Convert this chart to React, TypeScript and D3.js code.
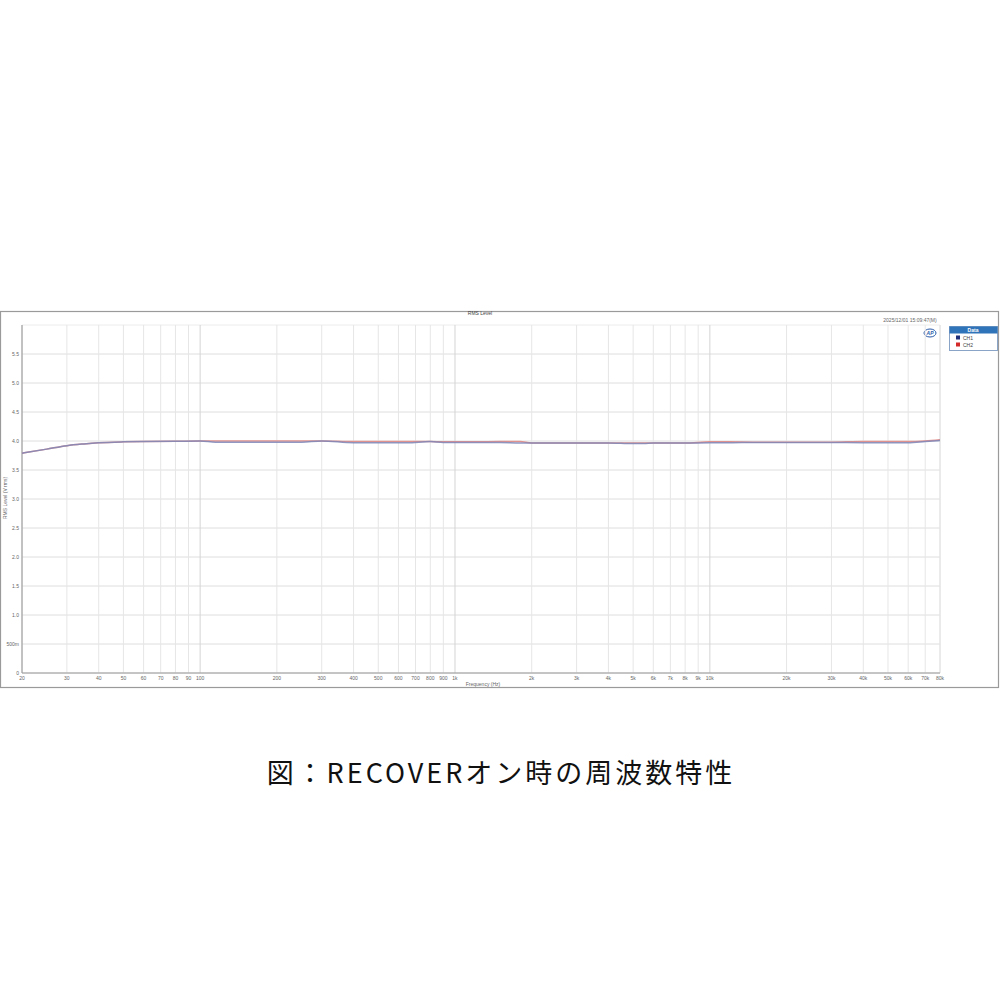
import React from "react";
import * as d3 from "d3";

const freqs = [20, 25, 30, 35, 40, 50, 60, 80, 100, 115, 150, 200, 250, 300, 400, 500, 650, 800, 900, 1200, 1500, 1800, 2000, 3000, 4000, 5000, 5500, 6000, 8000, 10000, 12000, 15000, 20000, 30000, 40000, 50000, 60000, 70000, 80000];
const ch1 = [3.79, 3.86, 3.92, 3.95, 3.97, 3.985, 3.99, 3.995, 4.0, 3.98, 3.98, 3.98, 3.98, 4.0, 3.97, 3.97, 3.97, 3.99, 3.975, 3.975, 3.975, 3.965, 3.965, 3.965, 3.965, 3.955, 3.955, 3.965, 3.965, 3.97, 3.97, 3.975, 3.975, 3.975, 3.97, 3.97, 3.97, 3.99, 4.01];
const ch2 = [3.79, 3.86, 3.92, 3.95, 3.97, 3.985, 3.99, 3.995, 4.0, 4.0, 4.0, 4.0, 4.0, 4.0, 3.99, 3.99, 3.99, 3.99, 3.985, 3.985, 3.99, 3.99, 3.965, 3.965, 3.965, 3.965, 3.965, 3.965, 3.965, 3.985, 3.985, 3.98, 3.98, 3.98, 3.99, 3.99, 3.99, 4.0, 4.02];
const xTicks = [20, 30, 40, 50, 60, 70, 80, 90, 100, 200, 300, 400, 500, 600, 700, 800, 900, 1000, 2000, 3000, 4000, 5000, 6000, 7000, 8000, 9000, 10000, 20000, 30000, 40000, 50000, 60000, 70000, 80000];
const yTicks = [0, 0.5, 1, 1.5, 2, 2.5, 3, 3.5, 4, 4.5, 5, 5.5];
const seriesNames = ["CH1", "CH2"];
const seriesColors = ["#7d86b8", "#e0928f"];
const legendColors = ["#1f2f7a", "#d42a2a"];

function fmtX(f: number) {
  if (f >= 1000) return f / 1000 + "k";
  return String(f);
}
function fmtY(v: number) {
  if (v === 0) return "0";
  if (v < 1) return v * 1000 + "m";
  return v.toFixed(1);
}

export default function App() {
  const L = 22, R = 940, T = 325, B = 673;
  const x = d3.scaleLog().domain([20, 80000]).range([L, R]);
  const y = d3.scaleLinear().domain([0, 6]).range([B, T]);
  const line = d3.line<number>().x((_, i) => x(freqs[i])).y((d) => y(d)).curve(d3.curveMonotoneX);
  const font = "Liberation Sans, Arial, sans-serif";
  return (
    <svg width={1000} height={1000} style={{ position: "absolute", left: 0, top: 0, background: "#fff" }} fontFamily={font}>
      <rect x={0.5} y={311.5} width={998} height={376} fill="#fff" stroke="#9a9a9a" strokeWidth={1.2} />
      <text x={480} y={315} fontSize={5} textAnchor="middle" fill="#444">RMS Level</text>
      <text x={910} y={322} fontSize={5} textAnchor="middle" fill="#666">2025/12/01 15:09:47(M)</text>
      <g>
        <ellipse cx={930} cy={333} rx={6} ry={4} fill="#fff" stroke="#2a5aa8" strokeWidth={1} />
        <text x={930} y={335} fontSize={5} fontWeight="bold" fontStyle="italic" textAnchor="middle" fill="#2a5aa8">AP</text>
      </g>
      {yTicks.map((t) => (
        <line key={"gy" + t} x1={L} x2={R} y1={y(t)} y2={y(t)} stroke="#dedede" strokeWidth={1} />
      ))}
      <line x1={L} x2={R} y1={T} y2={T} stroke="#ececec" />
      {xTicks.map((t) => (
        <line key={"gx" + t} x1={x(t)} x2={x(t)} y1={T} y2={B} stroke={[20, 100, 1000, 10000].includes(t) ? "#d4d4d4" : "#e6e6e6"} strokeWidth={1} />
      ))}
      <line x1={R} x2={R} y1={T} y2={B} stroke="#e2e2e2" />
      <line x1={L} x2={L} y1={T} y2={B} stroke="#9a9a9a" />
      <line x1={L} x2={R} y1={B} y2={B} stroke="#9a9a9a" />
      {yTicks.map((t) => (
        <text key={"ly" + t} x={L - 3} y={y(t) + 2} fontSize={5} textAnchor="end" fill="#666">{fmtY(t)}</text>
      ))}
      {xTicks.map((t) => (
        <text key={"lx" + t} x={x(t)} y={680} fontSize={5} textAnchor="middle" fill="#666">{fmtX(t)}</text>
      ))}
      <text x={483} y={686} fontSize={5} textAnchor="middle" fill="#666">Frequency (Hz)</text>
      <text transform="translate(7,498) rotate(-90)" fontSize={5} textAnchor="middle" fill="#666">RMS Level (V rms)</text>
      <path d={line(ch2) || ""} fill="none" stroke={seriesColors[1]} strokeWidth={1.5} />
      <path d={line(ch1) || ""} fill="none" stroke={seriesColors[0]} strokeWidth={1.5} opacity={0.85} />
      <g>
        <rect x={949.5} y={326.5} width={48} height={24} fill="#fff" stroke="#8aa4c8" />
        <rect x={949.5} y={326.5} width={48} height={7} fill="#2f73b8" />
        <text x={973} y={332} fontSize={5} textAnchor="middle" fill="#fff" fontWeight="bold">Data</text>
        {seriesNames.map((n, i) => (
          <g key={n}>
            <rect x={956} y={335.5 + i * 7} width={4} height={4} fill={legendColors[i]} />
            <text x={963} y={339.5 + i * 7} fontSize={5} fill="#444">{n}</text>
          </g>
        ))}
      </g>
      <text x={501} y={783} fontSize={27} textAnchor="middle" fill="#111" letterSpacing={3} fontFamily="'Noto Sans CJK JP', sans-serif">図：RECOVERオン時の周波数特性</text>
    </svg>
  );
}
